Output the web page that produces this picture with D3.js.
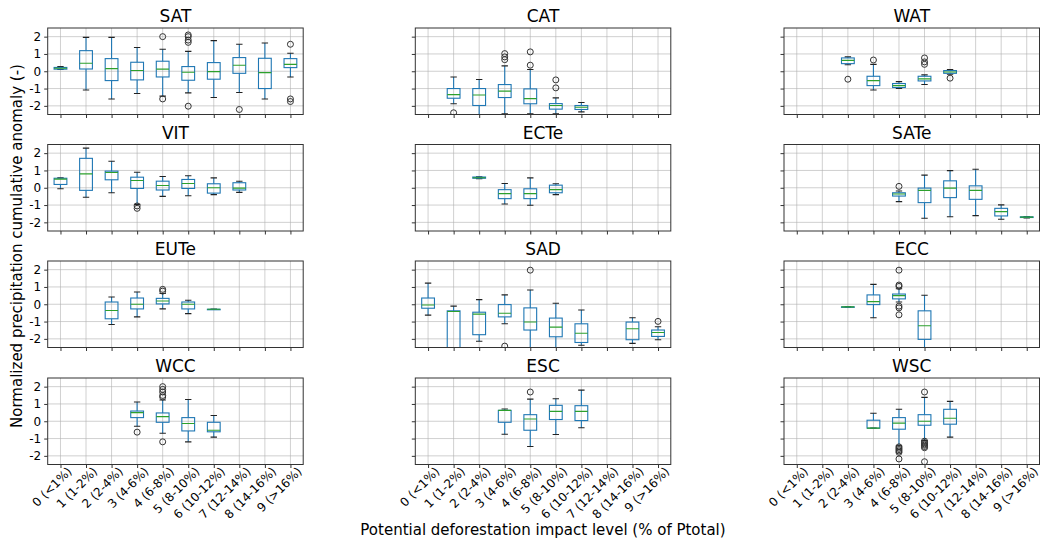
<!DOCTYPE html>
<head>
  <meta charset="utf-8">
  <script src="https://d3js.org/d3.v7.min.js"></script>
  <style>
    body { margin: 0; background: #fff; }
    text { font-family: 'DejaVu Sans'; fill: #000; }
    .title { font-size: 17px; text-anchor: middle; }
    .tick text { font-size: 12px; }
    .grid line { stroke: #b0b0b0; stroke-opacity: 0.6; stroke-width: 1; }
    .box { fill: none; stroke: #1f77b4; stroke-width: 1.1; }
    .whisker { stroke: #1f77b4; stroke-width: 1.1; }
    .median { stroke: #2ca02c; stroke-width: 1.1; }
    .cap { stroke: #222; stroke-width: 1.1; }
    .flier { fill: none; stroke: #333; stroke-width: 1; }
    .frame { fill: none; stroke: #333; stroke-width: 1; }
  </style>
</head>
<body>
  <script>
    // categories (deforestation impact level)
    var categories = ["0 (<1%)", "1 (1-2%)", "2 (2-4%)", "3 (4-6%)", "4 (6-8%)",
                      "5 (8-10%)", "6 (10-12%)", "7 (12-14%)", "8 (14-16%)", "9 (>16%)"];
    var yTicks = [-2, -1, 0, 1, 2];
    var regions = ["SAT", "CAT", "WAT", "VIT", "ECTe", "SATe", "EUTe", "SAD", "ECC", "WCC", "ESC", "WSC"];

    // each entry: [category, whisker low, q1, median, q3, whisker high, outliers]
    var SAT = [
      [0, 0.10, 0.12, 0.17, 0.22, 0.27, []],
      [1, -1.08, 0.13, 0.46, 1.19, 1.96, []],
      [2, -1.60, -0.54, 0.15, 0.73, 1.96, []],
      [3, -1.29, -0.50, 0.04, 0.52, 1.37, []],
      [4, -1.44, -0.33, 0.12, 0.58, 1.27, [2.0, -1.6]],
      [5, -1.25, -0.52, -0.06, 0.27, 1.15, [2.1, 2.0, 1.8, 1.67, -2.02]],
      [6, -1.52, -0.46, -0.02, 0.50, 1.77, []],
      [7, -1.23, -0.12, 0.35, 0.79, 1.56, [-2.21]],
      [8, -1.60, -1.00, -0.08, 0.75, 1.63, []],
      [9, -0.33, 0.21, 0.40, 0.73, 1.04, [1.56, -1.6, -1.75]]
    ];
    var CAT = [
      [1, -1.88, -1.56, -1.35, -1.00, -0.33, [-2.4]],
      [2, -2.70, -1.98, -1.37, -1.00, -0.48, []],
      [3, -2.46, -1.52, -1.15, -0.77, 0.31, [1.02, 0.83, 0.67]],
      [4, -2.46, -1.88, -1.58, -1.02, 0.10, [1.12, 0.35]],
      [5, -2.46, -2.19, -1.98, -1.87, -1.54, [-0.5, -0.96]],
      [6, -2.35, -2.21, -2.08, -1.98, -1.81, []]
    ];
    var WAT = [
      [2, 0.38, 0.44, 0.63, 0.77, 0.83, [-0.46]],
      [3, -1.08, -0.83, -0.54, -0.29, 0.40, [0.65]],
      [4, -1.00, -0.94, -0.83, -0.71, -0.60, []],
      [5, -0.77, -0.56, -0.44, -0.29, -0.21, [0.77, 0.54, 0.40]],
      [6, -0.17, -0.12, -0.04, 0.04, 0.10, [-0.40]]
    ];
    var VIT = [
      [0, -0.06, 0.19, 0.50, 0.55, 0.57, []],
      [1, -0.55, -0.15, 0.80, 1.70, 2.29, []],
      [2, -0.29, 0.46, 0.88, 0.96, 1.53, []],
      [3, -0.96, -0.04, 0.42, 0.61, 0.90, [-1.05, -1.19]],
      [4, -0.50, -0.13, 0.13, 0.38, 0.65, []],
      [5, -0.46, -0.04, 0.25, 0.48, 0.69, []],
      [6, -0.40, -0.31, 0.00, 0.23, 0.57, []],
      [7, -0.27, -0.13, -0.02, 0.29, 0.38, []]
    ];
    var ECTe = [
      [2, 0.53, 0.55, 0.58, 0.62, 0.64, []],
      [3, -0.94, -0.63, -0.34, -0.11, 0.25, []],
      [4, -1.01, -0.63, -0.34, -0.06, 0.57, []],
      [5, -0.40, -0.29, -0.11, 0.15, 0.23, []]
    ];
    var SATe = [
      [4, -0.80, -0.48, -0.36, -0.29, -0.19, [0.08]],
      [5, -1.76, -0.86, -0.15, -0.02, 0.73, []],
      [6, -1.68, -0.57, -0.02, 0.40, 0.99, []],
      [7, -1.61, -0.67, -0.15, 0.11, 1.07, []],
      [8, -1.82, -1.63, -1.38, -1.19, -0.99, []],
      [9, -1.74, -1.72, -1.70, -1.68, -1.66, []]
    ];
    var EUTe = [
      [2, -1.17, -0.84, -0.36, 0.13, 0.42, []],
      [3, -0.73, -0.27, 0.00, 0.36, 0.71, []],
      [4, -0.27, 0.02, 0.19, 0.34, 0.62, [0.86, 0.76]],
      [5, -0.54, -0.27, 0.00, 0.13, 0.23, []],
      [6, -0.29, -0.29, -0.29, -0.29, -0.29, []]
    ];
    var SAD = [
      [0, -0.63, -0.23, -0.04, 0.36, 1.22, []],
      [1, -2.70, -2.60, -0.42, -0.38, -0.11, []],
      [2, -2.14, -1.76, -0.57, -0.46, 0.27, []],
      [3, -1.13, -0.73, -0.52, -0.02, 0.54, [-2.42]],
      [4, -2.70, -1.49, -1.03, -0.21, 0.82, [1.97]],
      [5, -2.60, -1.88, -1.32, -0.80, 0.06, []],
      [6, -2.37, -2.21, -1.68, -1.13, -0.33, []],
      [8, -2.26, -2.05, -1.42, -1.03, -0.78, []],
      [9, -2.05, -1.86, -1.63, -1.49, -1.30, [-0.99]]
    ];
    var ECC = [
      [2, -0.15, -0.15, -0.15, -0.15, -0.15, []],
      [3, -0.78, -0.02, 0.15, 0.54, 1.15, []],
      [4, 0.13, 0.31, 0.50, 0.59, 0.90, [1.97, 1.11, 1.03, -0.11, -0.21, -0.61]],
      [5, -2.70, -2.03, -1.24, -0.38, 0.52, []]
    ];
    var WCC = [
      [3, -0.29, 0.21, 0.50, 0.59, 1.11, [-0.63]],
      [4, -0.69, -0.06, 0.27, 0.48, 1.23, [2.0, 1.84, 1.69, 1.49, 1.40, -1.19]],
      [5, -1.19, -0.56, -0.13, 0.21, 1.26, []],
      [6, -0.92, -0.61, -0.52, -0.06, 0.33, []]
    ];
    var ESC = [
      [3, -0.75, -0.06, 0.63, 0.63, 0.71, []],
      [4, -1.46, -0.52, 0.13, 0.38, 1.28, [1.69]],
      [5, -0.77, 0.10, 0.57, 0.92, 1.30, []],
      [6, -0.38, 0.04, 0.57, 0.90, 1.80, []]
    ];
    var WSC = [
      [3, -0.40, -0.40, -0.40, 0.06, 0.46, []],
      [4, -1.42, -0.46, -0.11, 0.21, 0.69, [-1.48, -1.56, -1.64, -1.72, -1.80, -2.18]],
      [5, -1.11, -0.23, 0.00, 0.38, 1.38, [1.69, -1.15, -1.23, -1.31, -1.38, -1.46, -1.53, -2.34]],
      [6, -0.92, -0.17, 0.17, 0.69, 1.15, []]
    ];
    var panelData = [SAT, CAT, WAT, VIT, ECTe, SATe, EUTe, SAD, ECC, WCC, ESC, WSC];

    var colLeft = [47.7, 415.3, 784];
    var rowTop = [28, 144.5, 261, 378];
    var pw = 255.5, ph = 86.5;

    var svg = d3.select("body").append("svg")
        .attr("width", 1046)
        .attr("height", 543);

    svg.append("rect").attr("width", 1046).attr("height", 543).attr("fill", "#fff");

    var x = d3.scaleLinear().domain([-0.5, 9.5]).range([0, pw]);
    var y = d3.scaleLinear().domain([-2.5, 2.5]).range([ph, 0]);
    var bw = x(0.25) - x(0);

    regions.forEach(function(name, i) {
      var col = i % 3, row = Math.floor(i / 3);
      var g = svg.append("g")
          .attr("transform", "translate(" + colLeft[col] + "," + rowTop[row] + ")");

      g.append("clipPath").attr("id", "clip" + i)
        .append("rect").attr("width", pw).attr("height", ph);

      // grid
      var grid = g.append("g").attr("class", "grid");
      grid.selectAll(".gx").data(d3.range(categories.length)).enter().append("line")
          .attr("x1", function(d) { return x(d); }).attr("x2", function(d) { return x(d); })
          .attr("y1", 0).attr("y2", ph);
      grid.selectAll(".gy").data(yTicks).enter().append("line")
          .attr("x1", 0).attr("x2", pw)
          .attr("y1", function(d) { return y(d); }).attr("y2", function(d) { return y(d); });

      // axes
      var xAxis = d3.axisBottom(x).tickValues(d3.range(categories.length))
          .tickSize(3.5).tickPadding(3)
          .tickFormat(row === 3 ? function(d) { return categories[d]; } : "");
      var xg = g.append("g").attr("transform", "translate(0," + ph + ")").call(xAxis);
      xg.select(".domain").remove();
      xg.selectAll("line").attr("stroke", "#333");
      if (row === 3) {
        xg.selectAll("text")
            .attr("text-anchor", "end")
            .attr("dy", null)
            .attr("transform", function() { return "translate(6,2) rotate(-45)"; })
            .attr("y", 8).attr("x", 0);
      }

      var yAxis = d3.axisLeft(y).tickValues(yTicks).tickSize(3.5).tickPadding(3)
          .tickFormat(col === 0 ? d3.format("d") : "");
      var yg = g.append("g").call(yAxis);
      yg.select(".domain").remove();
      yg.selectAll("line").attr("stroke", "#333");
      yg.selectAll("text").text(function(d) { return col === 0 ? String(d) : ""; });

      // boxes
      var data = panelData[i];
      var bx = g.append("g").attr("clip-path", "url(#clip" + i + ")");
      var items = bx.selectAll(".item").data(data).enter().append("g")
          .attr("transform", function(d) { return "translate(" + x(d[0]) + ",0)"; });

      items.append("line").attr("class", "whisker")
          .attr("x1", 0).attr("x2", 0)
          .attr("y1", function(d) { return y(d[1]); })
          .attr("y2", function(d) { return y(d[2]); });
      items.append("line").attr("class", "whisker")
          .attr("x1", 0).attr("x2", 0)
          .attr("y1", function(d) { return y(d[4]); })
          .attr("y2", function(d) { return y(d[5]); });
      items.append("line").attr("class", "cap")
          .attr("x1", -bw / 2).attr("x2", bw / 2)
          .attr("y1", function(d) { return y(d[1]); })
          .attr("y2", function(d) { return y(d[1]); });
      items.append("line").attr("class", "cap")
          .attr("x1", -bw / 2).attr("x2", bw / 2)
          .attr("y1", function(d) { return y(d[5]); })
          .attr("y2", function(d) { return y(d[5]); });
      items.append("rect").attr("class", "box")
          .attr("x", -bw).attr("width", 2 * bw)
          .attr("y", function(d) { return y(d[4]); })
          .attr("height", function(d) { return Math.max(0.5, y(d[2]) - y(d[4])); });
      items.append("line").attr("class", "median")
          .attr("x1", -bw).attr("x2", bw)
          .attr("y1", function(d) { return y(d[3]); })
          .attr("y2", function(d) { return y(d[3]); });
      items.selectAll(".flier").data(function(d) { return d[6]; }).enter().append("circle")
          .attr("class", "flier")
          .attr("cx", 0)
          .attr("cy", function(v) { return y(v); })
          .attr("r", 3);

      g.append("rect").attr("class", "frame").attr("width", pw).attr("height", ph);

      g.append("text").attr("class", "title")
          .attr("x", pw / 2).attr("y", -6)
          .text(name);
    });

    svg.append("text")
        .attr("transform", "translate(22," + 246 + ") rotate(-90)")
        .attr("text-anchor", "middle")
        .style("font-size", "15px")
        .text("Normalized precipitation cumulative anomaly (-)");

    svg.append("text")
        .attr("x", 543).attr("y", 535)
        .attr("text-anchor", "middle")
        .style("font-size", "15px")
        .text("Potential deforestation impact level (% of Ptotal)");
  </script>
</body>
